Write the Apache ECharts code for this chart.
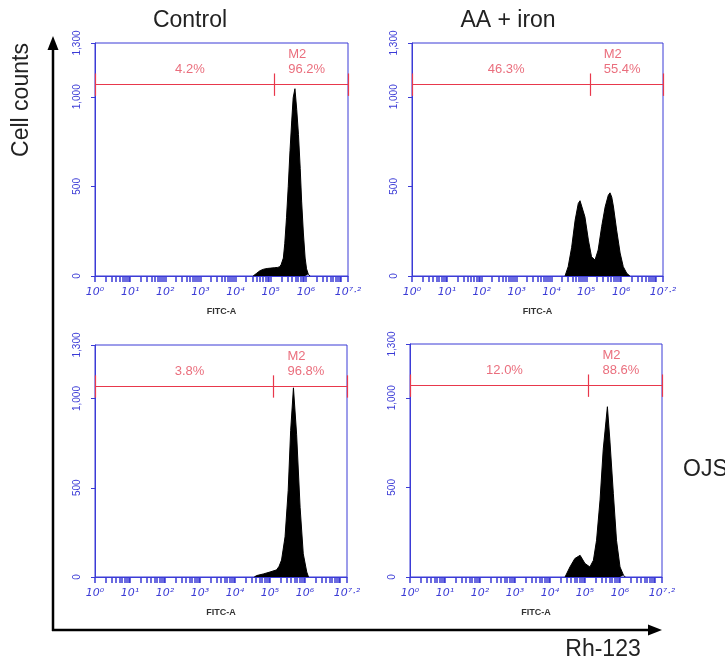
<!DOCTYPE html>
<html>
<head>
<meta charset="utf-8">
<script src="https://cdn.jsdelivr.net/npm/echarts@6/dist/echarts.min.js"></script>
<style>
html,body{margin:0;padding:0;background:#fff;}
#chart{width:725px;height:665px;}
</style>
</head>
<body>
<div id="chart"></div>
<script>
// ---- data ----
var panelTitles = ['Control', 'AA + iron'];
var rowLabel = 'OJS';
var yAxisTitle = 'Cell counts';
var xAxisTitle = 'Rh-123';
var channelName = 'FITC-A';

var xTickValues = [0, 1, 2, 3, 4, 5, 6, 7.2];
var xTickLabels = ['10⁰', '10¹', '10²', '10³', '10⁴', '10⁵', '10⁶', '10⁷·²'];
var yTickLabels = {0: '0', 500: '500', 1000: '1,000', 1300: '1,300'};

// histograms: log10 fluorescence vs. cell counts
var controlTopX = [4.50, 4.60, 4.70, 4.80, 4.90, 5.00, 5.10, 5.20, 5.26, 5.30, 5.36, 5.40, 5.45, 5.50, 5.55, 5.60, 5.64, 5.69, 5.74, 5.79, 5.84, 5.88, 5.93, 5.98, 6.02, 6.07, 6.12];
var controlTopY = [0, 15, 30, 38, 42, 44, 46, 48, 52, 65, 100, 180, 325, 500, 700, 870, 995, 1045, 930, 790, 600, 418, 240, 100, 40, 10, 0];

var ironTopX = [4.39, 4.48, 4.58, 4.68, 4.77, 4.82, 4.87, 4.96, 5.06, 5.15, 5.25, 5.34, 5.44, 5.54, 5.63, 5.68, 5.73, 5.78, 5.87, 5.97, 6.06, 6.16, 6.25];
var ironTopY = [0, 52, 160, 312, 405, 420, 423, 330, 200, 107, 89, 145, 275, 385, 450, 464, 440, 385, 256, 128, 52, 15, 0];

var controlOjsX = [4.55, 4.62, 4.81, 5.00, 5.19, 5.26, 5.33, 5.43, 5.52, 5.59, 5.67, 5.76, 5.86, 5.95, 6.05, 6.10];
var controlOjsY = [0, 8, 17, 28, 40, 60, 95, 225, 485, 820, 1060, 800, 390, 130, 28, 0];

var ironOjsX = [4.43, 4.57, 4.71, 4.86, 5.00, 5.14, 5.24, 5.33, 5.43, 5.52, 5.64, 5.71, 5.81, 5.90, 6.00, 6.10, 6.15];
var ironOjsY = [0, 56, 103, 121, 75, 56, 93, 205, 430, 710, 950, 765, 465, 205, 56, 10, 0];

// gate statistics
var leftPct = ['4.2%', '46.3%', '3.8%', '12.0%'];
var rightPct = ['96.2%', '55.4%', '96.8%', '88.6%'];
var markerName = 'M2';
var gateStart = 5.1;
var gateLevel = 1070;

// ---- layout/style ----
var BLUE = '#3b3bd6';
var RED = '#e8384c';
var RED_TXT = '#e54a5c';
var grids = [
  {left: 95, top: 43, width: 253, height: 233},
  {left: 412, top: 43, width: 251, height: 233},
  {left: 95, top: 345, width: 252, height: 232},
  {left: 410, top: 344, width: 252, height: 233}
];
var hist = [[controlTopX, controlTopY], [ironTopX, ironTopY], [controlOjsX, controlOjsY], [ironOjsX, ironOjsY]];

// log-decade tick marks
var tickVals = [];
for (var d = 0; d < 7; d++) {
  for (var k = 1; k <= 9; k++) tickVals.push(d + Math.log10(k));
}
tickVals.push(7, 7.2);

var chart = echarts.init(document.getElementById('chart'), null, {renderer: 'canvas'});

var xAxes = [], yAxes = [], series = [];
grids.forEach(function (g, i) {
  g.show = true; g.borderColor = BLUE; g.borderWidth = 1; g.containLabel = false;
  xAxes.push({
    type: 'value', gridIndex: i, min: 0, max: 7.2,
    axisLine: {show: true, lineStyle: {color: BLUE, width: 1}},
    axisTick: {show: true, customValues: tickVals, length: 6, lineStyle: {color: BLUE, width: 1.5}},
    axisLabel: {
      customValues: xTickValues, color: BLUE, fontSize: 11, fontStyle: 'italic',
      fontFamily: 'DejaVu Sans', margin: 11,
      formatter: function (v) {
        var idx = xTickValues.findIndex(function (t) { return Math.abs(t - v) < 1e-6; });
        return idx >= 0 ? xTickLabels[idx] : '';
      }
    },
    splitLine: {show: false},
    name: channelName, nameLocation: 'middle', nameGap: 31,
    nameTextStyle: {fontSize: 9, fontWeight: 'bold', color: '#333', fontFamily: 'Liberation Sans'}
  });
  yAxes.push({
    type: 'value', gridIndex: i, min: 0, max: 1300, interval: 500,
    axisLine: {show: true, lineStyle: {color: BLUE, width: 1}},
    axisTick: {show: true, length: 4, lineStyle: {color: BLUE}},
    axisLabel: {
      rotate: 90, color: BLUE, fontSize: 10, margin: 13, fontFamily: 'Liberation Sans',
      formatter: function (v) { return yTickLabels[v] !== undefined ? yTickLabels[v] : ''; }
    },
    splitLine: {show: false}
  });
  var xs = hist[i][0], ys = hist[i][1];
  series.push({
    type: 'line', xAxisIndex: i, yAxisIndex: i,
    data: xs.map(function (x, j) { return [x, ys[j]]; }),
    showSymbol: false, symbol: 'none',
    lineStyle: {color: '#000', width: 1},
    areaStyle: {color: '#000', opacity: 1},
    silent: true,
    markLine: {
      silent: true, symbol: ['none', 'none'], animation: false,
      lineStyle: {color: RED, width: 1.2, type: 'solid'},
      label: {show: false},
      data: [
        [{coord: [0, gateLevel]}, {coord: [7.2, gateLevel]}],
        [{coord: [0, gateLevel - 65]}, {coord: [0, gateLevel + 60]}],
        [{coord: [gateStart, gateLevel - 65]}, {coord: [gateStart, gateLevel + 60]}],
        [{coord: [7.2, gateLevel - 65]}, {coord: [7.2, gateLevel + 60]}]
      ]
    }
  });
  series.push({
    type: 'scatter', xAxisIndex: i, yAxisIndex: i, symbolSize: 0, silent: true,
    data: [[2.7, 1150, leftPct[i]]],
    label: {show: true, position: 'inside', color: RED_TXT, fontSize: 13, fontFamily: 'Liberation Sans',
      formatter: function (p) { return p.value[2]; }}
  });
  series.push({
    type: 'scatter', xAxisIndex: i, yAxisIndex: i, symbolSize: 0, silent: true,
    data: [[5.5, 1234, markerName], [5.5, 1150, rightPct[i]]],
    label: {show: true, position: 'right', distance: 0, color: RED_TXT, fontSize: 13, fontFamily: 'Liberation Sans',
      formatter: function (p) { return p.value[2]; }}
  });
});

var textFont = '23px "Liberation Sans", Arial, sans-serif';
var option = {
  animation: false,
  backgroundColor: '#fff',
  grid: grids,
  xAxis: xAxes,
  yAxis: yAxes,
  series: series,
  graphic: [
    {type: 'text', style: {text: panelTitles[0], x: 190, y: 21, font: textFont, fill: '#222', textAlign: 'center', textVerticalAlign: 'middle'}},
    {type: 'text', style: {text: panelTitles[1], x: 508, y: 21, font: textFont, fill: '#222', textAlign: 'center', textVerticalAlign: 'middle'}},
    {type: 'text', style: {text: rowLabel, x: 683, y: 470, font: textFont, fill: '#222', textAlign: 'left', textVerticalAlign: 'middle'}},
    {type: 'text', style: {text: xAxisTitle, x: 603, y: 650, font: textFont, fill: '#222', textAlign: 'center', textVerticalAlign: 'middle'}},
    {type: 'text', x: 22, y: 100, rotation: Math.PI / 2, style: {text: yAxisTitle, x: 0, y: 0, font: textFont, fill: '#222', textAlign: 'center', textVerticalAlign: 'middle'}},
    {type: 'line', shape: {x1: 53, y1: 631, x2: 53, y2: 48}, style: {stroke: '#000', lineWidth: 2.5}},
    {type: 'polygon', shape: {points: [[53, 36], [47.5, 50], [58.5, 50]]}, style: {fill: '#000'}},
    {type: 'line', shape: {x1: 52, y1: 630, x2: 650, y2: 630}, style: {stroke: '#000', lineWidth: 2.5}},
    {type: 'polygon', shape: {points: [[662, 630], [648, 624.5], [648, 635.5]]}, style: {fill: '#000'}}
  ]
};
chart.setOption(option);
</script>
</body>
</html>
